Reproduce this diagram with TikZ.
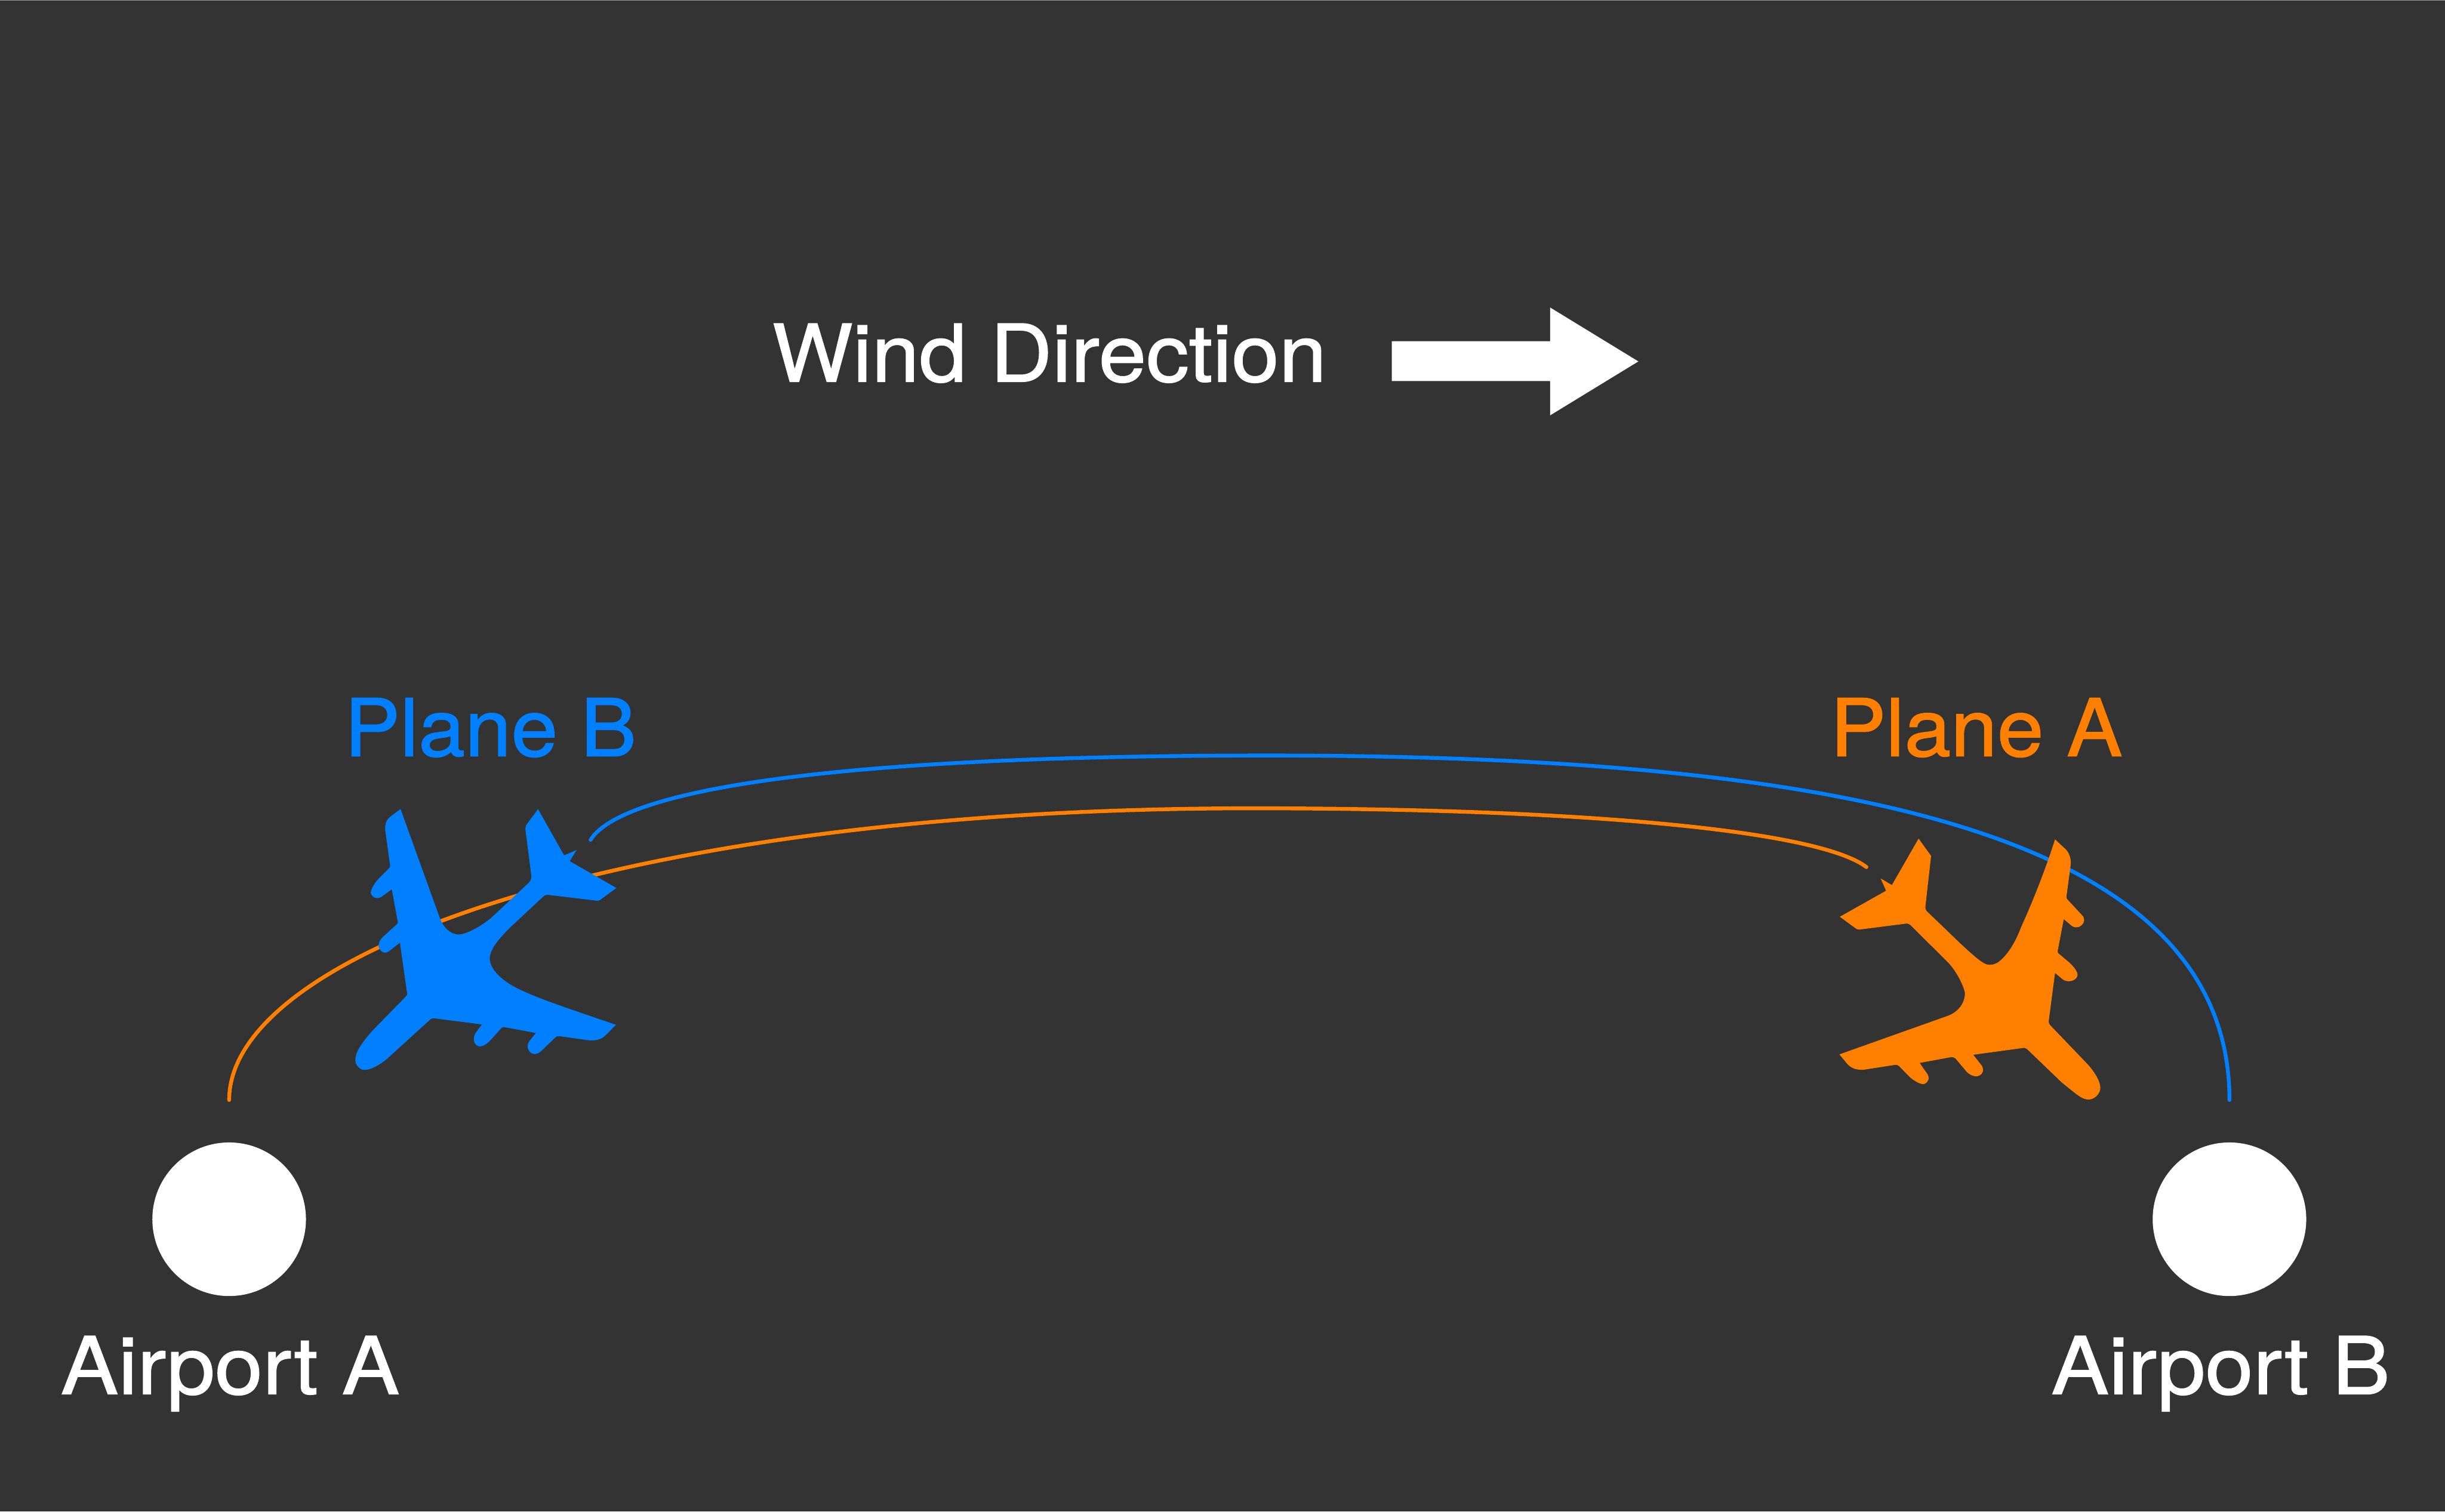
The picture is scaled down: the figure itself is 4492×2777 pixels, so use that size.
\documentclass[tikz,border=0pt]{standalone}
\usepackage{fontspec}
\setmainfont{TeX Gyre Heros}
\newfontfamily\windfont[FakeStretch=1.075,FakeBold=1.3]{TeX Gyre Heros}
\newfontfamily\airportfont[FakeStretch=1.085,FakeBold=1.3]{TeX Gyre Heros}
\newfontfamily\planefont[FakeStretch=1.05,FakeBold=1.3]{TeX Gyre Heros}

\definecolor{slateback}{HTML}{333333}
\definecolor{topedge}{HTML}{999999}
\definecolor{planeblue}{HTML}{0080FF}
\definecolor{planeorange}{HTML}{FF7F00}

\tikzset{
    labeltext/.style={anchor=base west, inner sep=0pt},
    airportdot/.style={circle, fill=white, inner sep=0pt, minimum size=2.82cm},
    flightpath/.style={line width=2pt, line cap=round},
    planeshape/.style={xscale=0.3827, yscale=0.3571}
}

\begin{document}
\begin{tikzpicture}[x=0.01cm, y=-0.01cm]
    % Hintergrund
    \fill[slateback] (0,0) rectangle (4492,2777);
    \fill[topedge] (0,0) rectangle (4492,1);
    \useasboundingbox (0,0) rectangle (4492,2777);

    % Wind
    \node[labeltext, text=white, font=\windfont\fontsize{41.5}{50}\selectfont] (windlabel) at (1418,701) {Wind Direction};
    \fill[white] (2557,627) -- (2848,627) -- (2848,565) -- (3010,664) -- (2848,763) -- (2848,700) -- (2557,700) -- cycle;

    % Flughaefen
    \node[airportdot] (airportA) at (421,2240) {};
    \node[airportdot] (airportB) at (4096,2240) {};
    \node[labeltext, text=white, font=\airportfont\fontsize{41.5}{50}\selectfont] (airportAlabel) at (111,2561) {Airport A};
    \node[labeltext, text=white, font=\airportfont\fontsize{41.5}{50}\selectfont] (airportBlabel) at (3768,2561) {Airport B};
    \node[labeltext, text=planeblue, font=\planefont\fontsize{41.5}{50}\selectfont] (planeBlabel) at (632,1389) {Plane B};
    \node[labeltext, text=planeorange, font=\planefont\fontsize{41.5}{50}\selectfont] (planeAlabel) at (3362,1389) {Plane A};

    % Flugbahnen
    \coordinate (orangestart) at (421,2021);
    \coordinate (orangetop) at (2300,1485);
    \coordinate (orangeend) at (3429,1593);
    \coordinate (bluestart) at (4096,2021);
    \coordinate (bluetop) at (2330,1388);
    \coordinate (blueend) at (1085,1543);
    \draw[flightpath, planeorange] (orangestart) .. controls (421,1751) and (1150,1485) .. (orangetop) .. controls (2900,1485) and (3340,1525) .. (orangeend);
    \draw[flightpath, planeblue] (bluestart) .. controls (4096,1535) and (3400,1388) .. (bluetop) .. controls (1500,1388) and (1140,1455) .. (blueend);

    % Flugzeug B
    \begin{scope}[shift={(600,1440)}, planeshape]
        \fill[planeblue] (355,130) -- (540,680) .. controls (560,745) and (600,778) .. (640,775) .. controls (680,770) and (745,730) .. (790,690) -- (970,510) .. controls (982,497) and (985,480) .. (982,465) -- (955,240) .. controls (953,225) and (957,215) .. (960,210) -- (1015,130) -- (1140,368) -- (1200,341) -- (1167,398) -- (1391,536) -- (1312,598) .. controls (1305,602) and (1300,602) .. (1295,601) -- (1060,571) .. controls (1050,571) and (1045,575) .. (1040,580) -- (880,740) .. controls (830,795) and (785,845) .. (783,900) .. controls (785,960) and (850,1020) .. (930,1060) .. controls (1040,1115) and (1200,1170) .. (1389,1240) -- (1340,1293) .. controls (1320,1315) and (1290,1325) .. (1250,1318) -- (1115,1298) .. controls (1105,1297) and (1100,1303) .. (1095,1308) -- (1030,1375) .. controls (1005,1400) and (980,1392) .. (970,1370) .. controls (958,1345) and (970,1328) .. (980,1315) -- (1005,1282) -- (855,1252) .. controls (845,1250) and (840,1255) .. (838,1258) -- (790,1315) .. controls (760,1350) and (730,1365) .. (712,1335) .. controls (700,1310) and (710,1290) .. (720,1275) -- (746,1238) -- (520,1207) .. controls (505,1205) and (500,1210) .. (498,1212) -- (290,1415) .. controls (250,1450) and (200,1480) .. (170,1470) .. controls (140,1455) and (130,1425) .. (145,1385) .. controls (160,1345) and (195,1300) .. (225,1265) -- (380,1095) .. controls (387,1087) and (387,1085) .. (387,1080) -- (352,817) -- (305,857) .. controls (280,880) and (260,865) .. (250,840) .. controls (247,820) and (258,800) .. (270,788) -- (335,725) .. controls (343,717) and (343,715) .. (342,710) -- (313,543) -- (265,580) .. controls (240,597) and (218,585) .. (212,560) .. controls (215,535) and (235,505) .. (250,488) -- (298,437) .. controls (305,428) and (305,425) .. (305,420) -- (283,250) .. controls (278,215) and (283,190) .. (305,170) -- cycle;
    \end{scope}

    % Flugzeug A
    \begin{scope}[shift={(3340,1500)}, planeshape]
        \fill[planeorange] (1138,118) -- (1180,160) .. controls (1205,180) and (1216,215) .. (1213,250) -- (1193,410) .. controls (1193,425) and (1196,427) .. (1200,430) -- (1265,505) .. controls (1285,525) and (1280,545) .. (1265,560) .. controls (1245,578) and (1225,570) .. (1215,560) -- (1180,528) -- (1151,690) .. controls (1150,700) and (1152,702) .. (1155,705) -- (1205,750) .. controls (1235,780) and (1250,805) .. (1245,822) .. controls (1235,850) and (1195,855) .. (1175,838) -- (1138,805) -- (1108,1050) .. controls (1107,1062) and (1110,1068) .. (1113,1072) -- (1290,1270) .. controls (1330,1315) and (1360,1370) .. (1355,1405) .. controls (1345,1445) and (1310,1465) .. (1280,1453) .. controls (1255,1445) and (1225,1415) .. (1170,1368) -- (1005,1198) .. controls (995,1190) and (990,1190) .. (985,1191) -- (745,1226) -- (785,1280) .. controls (800,1305) and (790,1325) .. (775,1333) .. controls (750,1345) and (725,1325) .. (715,1315) -- (660,1245) .. controls (650,1238) and (645,1238) .. (640,1238) -- (488,1268) -- (525,1325) .. controls (540,1350) and (525,1370) .. (510,1377) .. controls (490,1380) and (455,1355) .. (440,1340) -- (390,1285) .. controls (380,1277) and (375,1277) .. (370,1278) -- (225,1302) .. controls (180,1308) and (155,1290) .. (140,1272) -- (103,1224) -- (620,1027) .. controls (680,1005) and (708,950) .. (705,905) .. controls (695,860) and (665,800) .. (630,757) -- (450,565) .. controls (440,552) and (430,551) .. (425,551) -- (205,581) .. controls (190,583) and (185,580) .. (180,575) -- (105,516) -- (327,382) -- (301,319) -- (355,353) -- (483,114) -- (543,203) -- (516,460) .. controls (515,475) and (517,480) .. (520,485) -- (680,650) .. controls (720,690) and (770,740) .. (800,757) .. controls (825,770) and (850,760) .. (865,750) .. controls (915,710) and (950,640) .. (975,570) .. controls (1030,440) and (1090,280) .. (1138,118) -- cycle;
    \end{scope}
\end{tikzpicture}
\end{document}
